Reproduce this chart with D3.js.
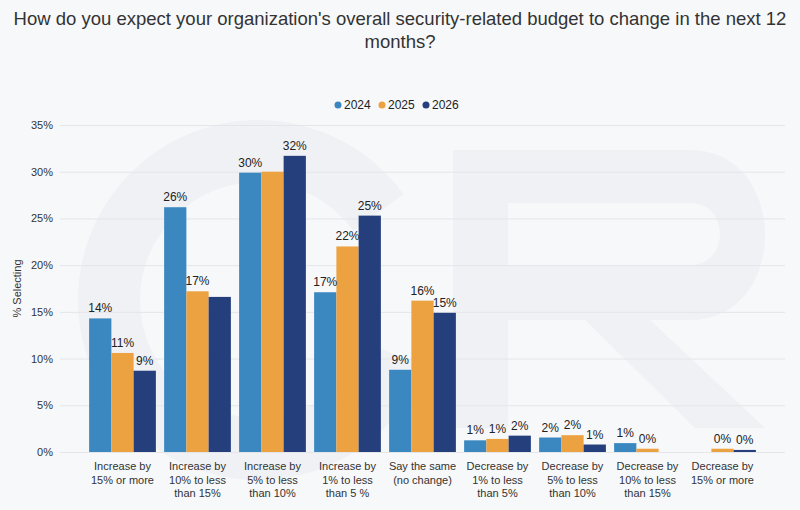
<!DOCTYPE html>
<html>
<head>
<meta charset="utf-8">
<script src="https://cdn.jsdelivr.net/npm/d3@7"></script>
<style>
  html, body { margin: 0; padding: 0; background: #f7f8fa; }
  svg { display: block; font-family: "Liberation Sans", Arial, sans-serif; }
</style>
</head>
<body>
<div id="chartArea"></div>
<script>
// categories and series
const categories = [
  ["Increase by", "15% or more"],
  ["Increase by", "10% to less", "than 15%"],
  ["Increase by", "5% to less", "than 10%"],
  ["Increase by", "1% to less", "than 5 %"],
  ["Say the same", "(no change)"],
  ["Decrease by", "1% to less", "than 5%"],
  ["Decrease by", "5% to less", "than 10%"],
  ["Decrease by", "10% to less", "than 15%"],
  ["Decrease by", "15% or more"]
];
const years = ["2024", "2025", "2026"];
const values2024 = [14.3, 26.2, 29.9, 17.1, 8.8, 1.25, 1.55, 0.95, null];
const values2025 = [10.6, 17.2, 30.0, 22.0, 16.2, 1.4, 1.8, 0.35, 0.35];
const values2026 = [8.7, 16.6, 31.7, 25.3, 14.9, 1.75, 0.8, null, 0.22];
const yTicks = [0, 5, 10, 15, 20, 25, 30, 35];

const titleLines = [
  "How do you expect your organization's overall security-related budget to change in the next 12",
  "months?"
];

makeChart();

function makeChart(){
    const width = 800, height = 510;
    const margin = {top: 125, bottom: 58, left: 60, right: 15};
    const colors = ["#3b88c1", "#eda242", "#243f7b"];
    const series = [values2024, values2025, values2026];

    const svg = d3.select("#chartArea")
        .append("svg")
        .attr("width", width)
        .attr("height", height);

    svg.append("rect")
        .attr("width", width)
        .attr("height", height)
        .attr("fill", "#f7f8fa");

    // faint "GR" watermark behind the plot, drawn as shapes
    const wm = svg.append("g").attr("fill", "#eff1f5");
    wm.append("path")
        .attr("transform", "translate(258,300)")
        .attr("d", d3.arc()
            .innerRadius(118)
            .outerRadius(180)
            .startAngle(Math.PI * 0.62)
            .endAngle(Math.PI * 2.3)());
    wm.append("path")
        .attr("d", "M453,150 L690,150 C790,150 790,320 690,320 L650,320 L765,428 L695,428 L585,320 L508,320 L508,428 L453,428 Z" +
                   " M508,203 L690,203 C730,203 730,265 690,265 L508,265 Z")
        .attr("fill-rule", "evenodd");

    // title
    svg.append("g")
        .selectAll("text")
        .data(titleLines)
        .enter()
        .append("text")
        .attr("x", width / 2)
        .attr("y", (d, i) => 25 + i * 23)
        .attr("text-anchor", "middle")
        .attr("fill", "#333")
        .style("font-size", "18.5px")
        .text(d => d);

    const y = d3.scaleLinear()
        .domain([0, 35])
        .range([height - margin.bottom, margin.top]);

    const x0 = d3.scaleBand()
        .domain(d3.range(categories.length))
        .range([85, 760])
        .paddingInner(0.11)
        .paddingOuter(0.055);

    const x1 = d3.scaleBand()
        .domain(years)
        .range([0, x0.bandwidth()]);

    // grid + y axis
    const yAxis = svg.append("g")
        .attr("transform", "translate(" + margin.left + ",0)")
        .call(d3.axisLeft(y)
            .tickValues(yTicks)
            .tickSize(-(width - margin.left - margin.right))
            .tickFormat(d => d + "%"));
    yAxis.select(".domain").remove();
    yAxis.selectAll(".tick line").attr("stroke", "#e4e6ea");
    yAxis.selectAll(".tick text")
        .attr("x", -7)
        .attr("fill", "#333")
        .style("font-size", "11px");

    svg.append("text")
        .attr("transform", "translate(21," + y(17.5) + ") rotate(-90)")
        .attr("text-anchor", "middle")
        .attr("fill", "#333")
        .style("font-size", "11px")
        .text("% Selecting");

    // bars
    const groups = svg.append("g")
        .selectAll("g")
        .data(categories)
        .enter()
        .append("g")
        .attr("transform", (d, i) => "translate(" + x0(i) + ",0)");

    const cells = groups.selectAll("g.cell")
        .data((d, i) => years.map((yr, k) => ({year: yr, k: k, v: series[k][i]})))
        .enter()
        .filter(d => d.v !== null)
        .append("g")
        .attr("class", "cell");

    cells.append("rect")
        .attr("x", d => x1(d.year))
        .attr("y", d => y(d.v))
        .attr("width", x1.bandwidth())
        .attr("height", d => y(0) - y(d.v))
        .attr("fill", d => colors[d.k]);

    // value labels; a label that runs into an earlier one is dropped
    groups.each(function(cat, i){
        const shown = [];
        years.forEach((yr, k) => {
            const v = series[k][i];
            if (v === null) return;
            const txt = Math.round(v) + "%";
            const cx = x1(yr) + x1.bandwidth() / 2;
            const w = txt.length * 6.7 + 4;   // text plus a little padding
            const by = y(v) - 6;
            const clash = shown.some(s =>
                Math.abs(s.cx - cx) < (s.w + w) / 2 && Math.abs(s.by - by) < 10);
            if (clash) return;
            shown.push({cx: cx, w: w, by: by});
            d3.select(this).append("text")
                .attr("x", cx)
                .attr("y", by)
                .attr("text-anchor", "middle")
                .attr("fill", "#222")
                .style("font-size", "12px")
                .text(txt);
        });
    });

    // category labels
    groups.append("text")
        .attr("text-anchor", "middle")
        .attr("fill", "#333")
        .style("font-size", "11px")
        .selectAll("tspan")
        .data(d => d)
        .enter()
        .append("tspan")
        .attr("x", x0.bandwidth() / 2)
        .attr("y", (d, i) => y(0) + 18 + i * 13.5)
        .text(d => d);

    // legend
    const legend = svg.append("g")
        .attr("transform", "translate(338,109)");
    const item = legend.selectAll("g")
        .data(years)
        .enter()
        .append("g")
        .attr("transform", (d, i) => "translate(" + (i * 44) + ",0)");
    item.append("circle")
        .attr("cx", 0).attr("cy", -4).attr("r", 3.5)
        .attr("fill", (d, i) => colors[i]);
    item.append("text")
        .attr("x", 6).attr("y", 0)
        .attr("fill", "#222")
        .style("font-size", "12px")
        .text(d => d);
}
</script>
</body>
</html>
